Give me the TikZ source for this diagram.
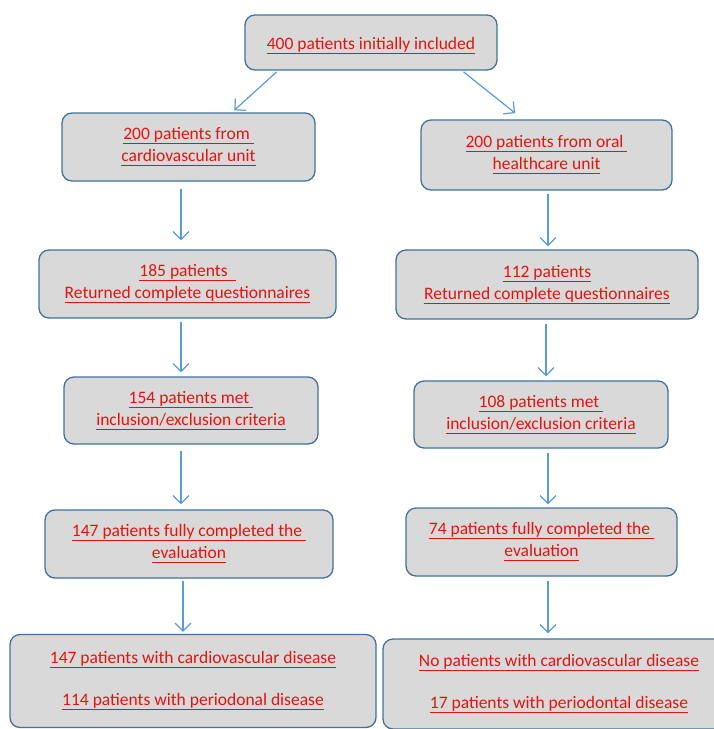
\documentclass[tikz,border=0pt]{standalone}
\usepackage{fontspec}
\setmainfont{Carlito}
\usetikzlibrary{arrows.meta}
\definecolor{boxfill}{HTML}{D9D9D9}
\definecolor{boxline}{HTML}{41719C}
\definecolor{arrowc}{HTML}{5B9BD5}
\definecolor{txtred}{HTML}{E3140F}
\newcommand{\redul}[1]{\leavevmode\setbox0=\hbox{#1}\dp0=0pt\vtop{\box0\kern3.8pt\hrule height 1pt}}
\begin{document}
\begin{tikzpicture}[x=1pt,y=-1pt,
 box/.style={draw=boxline, fill=boxfill, line width=1.3pt, rounded corners=10pt, align=center, text=txtred, font=\fontsize{17.5}{22}\selectfont, inner sep=0pt, execute at begin node={\rule{0pt}{19pt}}},
 arr/.style={draw=arrowc, line width=1.2pt, -{Straight Barb[length=8pt,width=16pt]}}]
\useasboundingbox (0,0) rectangle (713,729);
\node[box, minimum width=252pt, minimum height=55pt] (top) at (371,42.5) {\redul{400 patients initially included}};
\node[box, minimum width=253pt, minimum height=68pt] (l1) at (188.5,147) {\redul{200 patients from\ }\\\redul{cardiovascular unit}};
\node[box, minimum width=251pt, minimum height=70pt] (r1) at (546.5,155) {\redul{200 patients from oral\ }\\\redul{healthcare unit}};
\node[box, minimum width=297pt, minimum height=68pt] (l2) at (187.5,284) {\redul{185 patients\ \ }\\\redul{Returned complete questionnaires}};
\node[box, minimum width=302pt, minimum height=69pt] (r2) at (547,284.5) {\redul{112 patients}\\\redul{Returned complete questionnaires}};
\node[box, minimum width=254pt, minimum height=67pt] (l3) at (191,410.5) {\redul{154 patients met\ }\\\redul{inclusion/exclusion criteria}};
\node[box, minimum width=254pt, minimum height=67pt] (r3) at (541,414.5) {\redul{108 patients met\ }\\\redul{inclusion/exclusion criteria}};
\node[box, minimum width=288pt, minimum height=68pt] (l4) at (189,544) {\redul{147 patients fully completed the\ }\\\redul{evaluation}};
\node[box, minimum width=271pt, minimum height=68pt] (r4) at (541.5,542) {\redul{74 patients fully completed the\ }\\\redul{evaluation}};
\node[box, minimum width=366pt, minimum height=93pt] (l5) at (193,681) {\redul{147 patients with cardiovascular disease}\\[20pt]\redul{114 patients with periodonal disease}};
\node[box, minimum width=352pt, minimum height=90pt] (r5) at (559,684) {\redul{No patients with cardiovascular disease}\\[20pt]\redul{17 patients with periodontal disease}};
\draw[arr, shorten <=2pt, shorten >=3pt] ([xshift=-93pt]top.south) -- ([xshift=43.5pt]l1.north);
\draw[arr, shorten <=2pt, shorten >=10pt] ([xshift=91pt]top.south) -- ([xshift=-23.5pt]r1.north);
\draw[arr, shorten <=7pt, shorten >=9pt] ([xshift=-7.5pt]l1.south) -- ([xshift=-6.5pt]l2.north);
\draw[arr, shorten <=3pt, shorten >=3pt] ([xshift=1.5pt]r1.south) -- ([xshift=1pt]r2.north);
\draw[arr, shorten <=3pt, shorten >=4pt] ([xshift=-6.5pt]l2.south) -- ([xshift=-10pt]l3.north);
\draw[arr, shorten <=4pt, shorten >=4pt] ([xshift=-1pt]r2.south) -- ([xshift=5pt]r3.north);
\draw[arr, shorten <=6pt, shorten >=5pt] ([xshift=-10pt]l3.south) -- ([xshift=-8pt]l4.north);
\draw[arr, shorten <=4pt, shorten >=3pt] ([xshift=7pt]r3.south) -- ([xshift=6.5pt]r4.north);
\draw[arr, shorten <=2pt, shorten >=2pt] ([xshift=-6pt]l4.south) -- ([xshift=-10pt]l5.north);
\draw[arr, shorten <=4pt, shorten >=5pt] ([xshift=6.5pt]r4.south) -- ([xshift=-11pt]r5.north);
\end{tikzpicture}
\end{document}
